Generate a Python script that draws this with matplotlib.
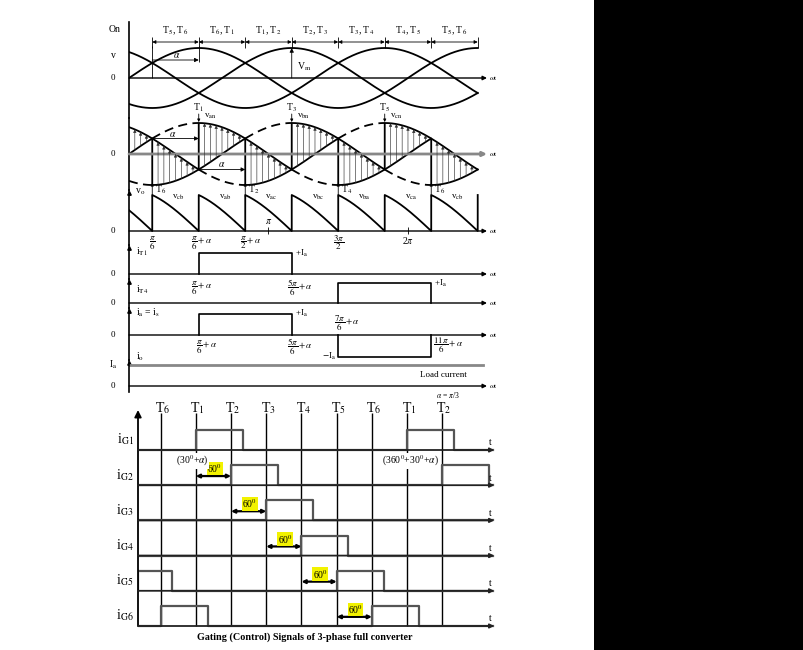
import numpy as np
import matplotlib
matplotlib.use('Agg')
import matplotlib.pyplot as plt
from matplotlib.patches import Rectangle

plt.rcParams['font.family'] = ['Liberation Serif', 'DejaVu Serif']
plt.rcParams['mathtext.fontset'] = 'stix'

PI = np.pi

# ---------------- data ----------------
Vm = 1.0
Ia = 1.0
phase_shift = {'a': 0.0, 'b': -2 * PI / 3, 'c': 2 * PI / 3}

# conduction of positive / negative group (edges in units of pi/6), alpha = pi/3
upper_edges = [0, 3, 7, 11, 15]
upper_phases = ['c', 'a', 'b', 'c']
lower_edges = [0, 1, 5, 9, 13, 15]
lower_phases = ['a', 'b', 'c', 'a', 'b']
next_upper = 'a'  # T1 fires again at the right edge

# parts of the phase voltages drawn dashed (start, end, phase)
dashed_upper = [(1, 3, 'a'), (5, 7, 'b'), (9, 11, 'c')]
dashed_lower = [(0, 1, 'b'), (3, 5, 'c'), (7, 9, 'a'), (11, 13, 'b')]

pair_edges = [1, 3, 5, 7, 9, 11, 13, 15]
pair_labels = ['T$_5$, T$_6$', 'T$_6$, T$_1$', 'T$_1$, T$_2$', 'T$_2$, T$_3$',
               'T$_3$, T$_4$', 'T$_4$, T$_5$', 'T$_5$, T$_6$']

upper_fire = [3, 7, 11]
upper_names = ['T$_1$', 'T$_3$', 'T$_5$']
upper_volts = ['v$_{\\rm an}$', 'v$_{\\rm bn}$', 'v$_{\\rm cn}$']
lower_fire = [1, 5, 9, 13]
lower_names = ['T$_6$', 'T$_2$', 'T$_4$', 'T$_6$']
vo_labels = ['v$_{\\rm cb}$', 'v$_{\\rm ab}$', 'v$_{\\rm ac}$', 'v$_{\\rm bc}$',
             'v$_{\\rm ba}$', 'v$_{\\rm ca}$', 'v$_{\\rm cb}$']

iT1_on = [(3, 7)]
iT4_on = [(9, 13)]
ia_on = [(3, 7, 1), (9, 13, -1)]
io_span = (0.0, 7.97)

gate_labels = ['i$_{\\rm G1}$', 'i$_{\\rm G2}$', 'i$_{\\rm G3}$',
               'i$_{\\rm G4}$', 'i$_{\\rm G5}$', 'i$_{\\rm G6}$']
gate_starts = [[90, 450], [150, 510], [210], [270], [-30, 330], [30, 390]]
pulse_width = 80
pulse_height = 0.57
fire_deg = [30, 90, 150, 210, 270, 330, 390, 450, 510]
fire_names = ['T$_6$', 'T$_1$', 'T$_2$', 'T$_3$', 'T$_4$', 'T$_5$', 'T$_6$', 'T$_1$', 'T$_2$']

# ---------------- helpers ----------------
W, H = 804, 650
X0, SX, XR = 129, 44.4, 490


def X(px):
    return (px - X0) / SX


def phase_v(t, ph):
    return Vm * np.sin(t + phase_shift[ph])


def rail(edges, phases, n=80):
    xs, ys = [], []
    for e0, e1, ph in zip(edges[:-1], edges[1:], phases):
        t = np.linspace(e0 * PI / 6, e1 * PI / 6, n)
        xs.append(t)
        ys.append(phase_v(t, ph))
    return np.concatenate(xs), np.concatenate(ys)


def phase_at(t, edges, phases):
    for e0, e1, ph in zip(edges[:-1], edges[1:], phases):
        if e0 * PI / 6 <= t <= e1 * PI / 6:
            return ph
    return phases[-1]


fig = plt.figure(figsize=(W / 100, H / 100), dpi=100)
fig.add_artist(Rectangle((594 / W, 0), (W - 594) / W, 1, transform=fig.transFigure,
                         facecolor='black', edgecolor='none'))

arr = dict(arrowstyle='-|>', lw=0.8, color='k', mutation_scale=6, shrinkA=0, shrinkB=0)


def panel(top, bottom, zero, unit, axis_color='k', axis_lw=1.0, arrow_top=False):
    ax = fig.add_axes([X0 / W, 1 - bottom / H, (XR - X0) / W, (bottom - top) / H])
    ax.set_xlim(0, X(XR))
    ax.set_ylim(-(bottom - zero) / unit, (zero - top) / unit)
    for s in ['top', 'right', 'bottom']:
        ax.spines[s].set_visible(False)
    ax.spines['left'].set_linewidth(1.2)
    ax.set_xticks([])
    ax.set_yticks([])
    ax.patch.set_alpha(0)
    ax.annotate('', xy=(X(487), 0), xytext=(0, 0), annotation_clip=False,
                arrowprops=dict(arrowstyle='-|>', lw=axis_lw, color=axis_color,
                                mutation_scale=6, shrinkA=0, shrinkB=0))
    ax.text(X(489), 0, '$\\omega$t', fontsize=5, ha='left', va='center')
    ax.text(X(113), 0, '0', fontsize=6.5, ha='center', va='center')
    if arrow_top:
        ax.plot(0, (zero - top - 3) / unit, marker='^', ms=2.5, color='k', clip_on=False)

    def Y(py):
        return (zero - py) / unit
    return ax, Y


# ---------------- panel 1: phase voltages ----------------
ax1, Y1 = panel(22, 118, 78, 30)
t = np.linspace(0, 15 * PI / 6, 400)
for ph in ['a', 'b', 'c']:
    ax1.plot(t, phase_v(t, ph), color='k', lw=1.3)
pe = np.array(pair_edges) * PI / 6
ax1.vlines(pe, Y1(48), Y1(37), color='k', lw=0.6)
for i, lab in enumerate(pair_labels):
    ax1.annotate('', xy=(pe[i + 1], Y1(42)), xytext=(pe[i], Y1(42)),
                 arrowprops=dict(arrowstyle='<|-|>', lw=0.6, color='k', mutation_scale=5,
                                 shrinkA=0, shrinkB=0))
    ax1.text((pe[i] + pe[i + 1]) / 2, Y1(31), lab, fontsize=7, ha='center', va='center')
ax1.vlines(pe[0], 0, Y1(46), color='k', lw=0.6)
ax1.vlines(pe[1], Y1(62), Y1(46), color='k', lw=0.6)
ax1.annotate('', xy=(pe[1], Y1(60)), xytext=(pe[0], Y1(60)), arrowprops=dict(arr, lw=0.6))
ax1.text(X(177), Y1(55), '$\\alpha$', fontsize=7, ha='center', va='center')
ax1.annotate('', xy=(7 * PI / 6, Vm), xytext=(7 * PI / 6, 0), arrowprops=dict(arr, lw=0.6))
ax1.text(X(297), Y1(67), 'V$_{\\rm m}$', fontsize=7, ha='left', va='center')
ax1.text(X(115), Y1(29), 'On', fontsize=7, ha='center', va='center')
ax1.text(X(113), Y1(56), 'v', fontsize=7, ha='center', va='center')

# ---------------- panel 2: rails ----------------
ax2, Y2 = panel(118, 190, 154, 31, axis_color='#888888', axis_lw=2.0)
xu, yu = rail(upper_edges, upper_phases)
xl, yl = rail(lower_edges, lower_phases)
ax2.plot(xu, yu, color='k', lw=1.3)
ax2.plot(xl, yl, color='k', lw=1.3)
for e0, e1, ph in dashed_upper + dashed_lower:
    td = np.linspace(e0 * PI / 6, e1 * PI / 6, 60)
    ax2.plot(td, phase_v(td, ph), color='k', lw=1.3, dashes=(5, 3))
for k in range(1, 60):
    if k % 8 == 4:
        continue
    tk = k * PI / 24
    vu = phase_v(tk, phase_at(tk, upper_edges, upper_phases))
    vl = phase_v(tk, phase_at(tk, lower_edges, lower_phases))
    ax2.annotate('', xy=(tk, vu), xytext=(tk, vl),
                 arrowprops=dict(arrowstyle='-|>', lw=0.45, color='#333333',
                                 mutation_scale=4.5, shrinkA=0, shrinkB=0))
for k, nm, vn in zip(upper_fire, upper_names, upper_volts):
    tk = k * PI / 6
    ax2.text(tk, Y2(108), nm, fontsize=7, ha='center', va='center')
    ax2.annotate('', xy=(tk, Vm + 0.03), xytext=(tk, Y2(114)), annotation_clip=False,
                 arrowprops=dict(arr, lw=0.6, mutation_scale=4))
    ax2.text(tk + X(X0 + 5), Y2(121), vn, fontsize=6.5, ha='left', va='bottom')
ax2.annotate('', xy=(PI / 2, 0.5), xytext=(PI / 6, 0.5), arrowprops=dict(arr, lw=0.6))
ax2.text(X(173), Y2(134), '$\\alpha$', fontsize=7, ha='center', va='center')
ax2.annotate('', xy=(5 * PI / 6, -0.5), xytext=(PI / 2, -0.5), arrowprops=dict(arr, lw=0.6))
ax2.text(X(222), Y2(164), '$\\alpha$', fontsize=7, ha='center', va='center')

# ---------------- panel 3: output voltage ----------------
ax3, Y3 = panel(190, 245, 231, 24, arrow_top=True)
all_edges = sorted(set(upper_edges) | set(lower_edges))
vx, vy = [], []
for e0, e1 in zip(all_edges[:-1], all_edges[1:]):
    mid = (e0 + e1) / 2 * PI / 6
    up = phase_at(mid, upper_edges, upper_phases)
    lo = phase_at(mid, lower_edges, lower_phases)
    ts = np.linspace(e0 * PI / 6, e1 * PI / 6, 80)
    vx.append(ts)
    vy.append(phase_v(ts, up) - phase_v(ts, lo))
tend = all_edges[-1] * PI / 6
vx.append([tend])
vy.append([phase_v(tend, next_upper) - phase_v(tend, lower_phases[-1])])
ax3.plot(np.concatenate(vx), np.concatenate(vy), color='k', lw=1.3)
ax3.text(X(135), Y3(192), 'v$_{\\rm o}$', fontsize=7, ha='left', va='center')
for i, lab in enumerate(vo_labels):
    ax3.text((i + 1) * PI / 3 + X(X0 + 3), Y3(197), lab, fontsize=6.5, ha='center', va='center')
for k, nm in zip(lower_fire, lower_names):
    tk = k * PI / 6
    ax3.annotate('', xy=(tk, Y3(183)), xytext=(tk, Y3(197)), annotation_clip=False,
                 arrowprops=dict(arr, lw=0.6, mutation_scale=4))
    ax3.text(tk + X(X0 + 3), Y3(190), nm, fontsize=7, ha='left', va='center')
ax3.vlines([PI, 2 * PI], Y3(234), Y3(227), color='k', lw=0.6)
ax3.text(PI, Y3(221), '$\\pi$', fontsize=7, ha='center', va='center')
ax3.text(2 * PI, Y3(241), '2$\\pi$', fontsize=7, ha='center', va='center')
fr = 6.5
ax3.text(PI / 6, Y3(243), '$\\dfrac{\\pi}{6}$', fontsize=fr, ha='center', va='center')
ax3.text(PI / 2 + X(X0 + 3), Y3(243), '$\\dfrac{\\pi}{6}+\\alpha$', fontsize=fr, ha='center', va='center')
ax3.text(5 * PI / 6 + X(X0 + 5), Y3(243), '$\\dfrac{\\pi}{2}+\\alpha$', fontsize=fr, ha='center', va='center')
ax3.text(3 * PI / 2, Y3(243), '$\\dfrac{3\\pi}{2}$', fontsize=fr, ha='center', va='center')

# ---------------- panel 4: iT1 ----------------
ax4, Y4 = panel(245, 279, 274, 21, arrow_top=True)
for a, b in iT1_on:
    ax4.plot(np.array([a, a, b, b]) * PI / 6, [0, Ia, Ia, 0], color='k', lw=1.2)
    ax4.text(b * PI / 6 + X(X0 + 3), Ia, '+I$_{\\rm a}$', fontsize=6.5, ha='left', va='center')
ax4.text(X(136), Y4(252), 'i$_{\\rm T1}$', fontsize=7, ha='left', va='center')

# ---------------- panel 5: iT4 ----------------
ax5, Y5 = panel(279, 308, 303, 20, arrow_top=True)
for a, b in iT4_on:
    ax5.plot(np.array([a, a, b, b]) * PI / 6, [0, Ia, Ia, 0], color='k', lw=1.2)
    ax5.text(b * PI / 6 + X(X0 + 3), Ia, '+I$_{\\rm a}$', fontsize=6.5, ha='left', va='center')
ax5.text(X(136), Y5(290), 'i$_{\\rm T4}$', fontsize=7, ha='left', va='center')
ax5.text(PI / 2 + X(X0 + 3), Y5(288), '$\\dfrac{\\pi}{6}+\\alpha$', fontsize=fr, ha='center', va='center')
ax5.text(7 * PI / 6 + X(X0 + 8), Y5(288), '$\\dfrac{5\\pi}{6}+\\alpha$', fontsize=fr, ha='center', va='center')

# ---------------- panel 6: ia ----------------
ax6, Y6 = panel(308, 360, 335, 21.5, arrow_top=True)
for a, b, s in ia_on:
    ax6.plot(np.array([a, a, b, b]) * PI / 6, [0, s * Ia, s * Ia, 0], color='k', lw=1.2)
ax6.text(7 * PI / 6 + X(X0 + 3), Ia, '+I$_{\\rm a}$', fontsize=6.5, ha='left', va='center')
ax6.text(3 * PI / 2 - X(X0 + 2), -Ia, '$-$I$_{\\rm a}$', fontsize=6.5, ha='right', va='center')
ax6.text(X(136), Y6(313), 'i$_{\\rm a}$ = i$_{\\rm s}$', fontsize=7, ha='left', va='center')
ax6.text(3 * PI / 2 + X(X0 + 9), Y6(323), '$\\dfrac{7\\pi}{6}+\\alpha$', fontsize=fr, ha='center', va='center')
ax6.text(PI / 2 + X(X0 + 8), Y6(347), '$\\dfrac{\\pi}{6}+\\alpha$', fontsize=fr, ha='center', va='center')
ax6.text(7 * PI / 6 + X(X0 + 8), Y6(347), '$\\dfrac{5\\pi}{6}+\\alpha$', fontsize=fr, ha='center', va='center')
ax6.text(13 * PI / 6 + X(X0 + 17), Y6(345), '$\\dfrac{11\\pi}{6}+\\alpha$', fontsize=fr, ha='center', va='center')

# ---------------- panel 7: io ----------------
ax7, Y7 = panel(360, 392, 386, 21, arrow_top=True)
ax7.plot(io_span, [Ia, Ia], color='#888888', lw=2.0)
ax7.text(X(136), Y7(357), 'i$_{\\rm o}$', fontsize=7, ha='left', va='center')
ax7.text(X(113), Ia, 'I$_{\\rm a}$', fontsize=7, ha='center', va='center')
ax7.text(X(443), Y7(375), 'Load current', fontsize=6.5, ha='center', va='center')
ax7.text(X(448), Y7(395), '$\\alpha$ = $\\pi$/3', fontsize=5.5, ha='center', va='center')

# ---------------- gating signals ----------------
GL, GR, GT, GB = 138, 496, 398, 630
G0, GS = 143, 0.587
gz, gu = 450, 35.2
axg = fig.add_axes([GL / W, 1 - GB / H, (GR - GL) / W, (GB - GT) / H])
xmin, xmax = (GL - G0) / GS, (GR - G0) / GS
axg.set_xlim(xmin, xmax)
axg.set_ylim(-(GB - gz) / gu, (gz - GT) / gu)
axg.axis('off')


def GY(py):
    return (gz - py) / gu


axg.vlines(fire_deg, GY(626), GY(413), color='k', lw=1.0)
for d, nm in zip(fire_deg, fire_names):
    axg.text(d + 3, GY(408), nm, fontsize=10, ha='center', va='center')
axg.annotate('', xy=(xmin, GY(410)), xytext=(xmin, GY(626)), annotation_clip=False,
             arrowprops=dict(arrowstyle='-|>', lw=1.3, color='k', mutation_scale=10,
                             shrinkA=0, shrinkB=0))
for r, (lab, starts) in enumerate(zip(gate_labels, gate_starts)):
    base = -r
    axg.annotate('', xy=(xmax - 3, base), xytext=(xmin, base), annotation_clip=False,
                 arrowprops=dict(arrowstyle='-|>', lw=1.3, color='#222222', mutation_scale=6,
                                 shrinkA=0, shrinkB=0))
    xs, ys = [xmin], [base]
    for s in starts:
        a = max(s, xmin)
        b = s + pulse_width
        xs += [a, a, b, b]
        ys += [base, base + pulse_height, base + pulse_height, base]
    xs.append(xmax - 5)
    ys.append(base)
    axg.plot(xs, ys, color='#555555', lw=1.6)
    axg.text(xmin - 22, base + 0.3, lab, fontsize=10, ha='center', va='center')
    axg.text(xmax - 10, base + 0.2, 't', fontsize=7, ha='center', va='center')
    if r > 0:
        a, b = fire_deg[r], fire_deg[r + 1]
        axg.annotate('', xy=(b, base + 0.26), xytext=(a, base + 0.26),
                     arrowprops=dict(arrowstyle='<|-|>', lw=1.6, color='k', mutation_scale=5,
                                     shrinkA=0, shrinkB=0))
        axg.text((a + b) / 2 + 2, base + 0.47, '60$^0$', fontsize=7, ha='center', va='center',
                 bbox=dict(facecolor='#f2f200', edgecolor='none', pad=0.3))
axg.text(84, GY(461), '(30$^0$+$\\alpha$)', fontsize=7, ha='center', va='center',
         bbox=dict(facecolor='white', edgecolor='none', pad=0.5))
axg.text(455, GY(461), '(360$^0$+30$^0$+$\\alpha$)', fontsize=7, ha='center', va='center',
         bbox=dict(facecolor='white', edgecolor='none', pad=0.5))

fig.text(305 / W, 1 - 637 / H, 'Gating (Control) Signals of 3-phase full converter',
         fontsize=7.3, fontweight='bold', ha='center', va='center')

fig.savefig('out.png', dpi=100)
